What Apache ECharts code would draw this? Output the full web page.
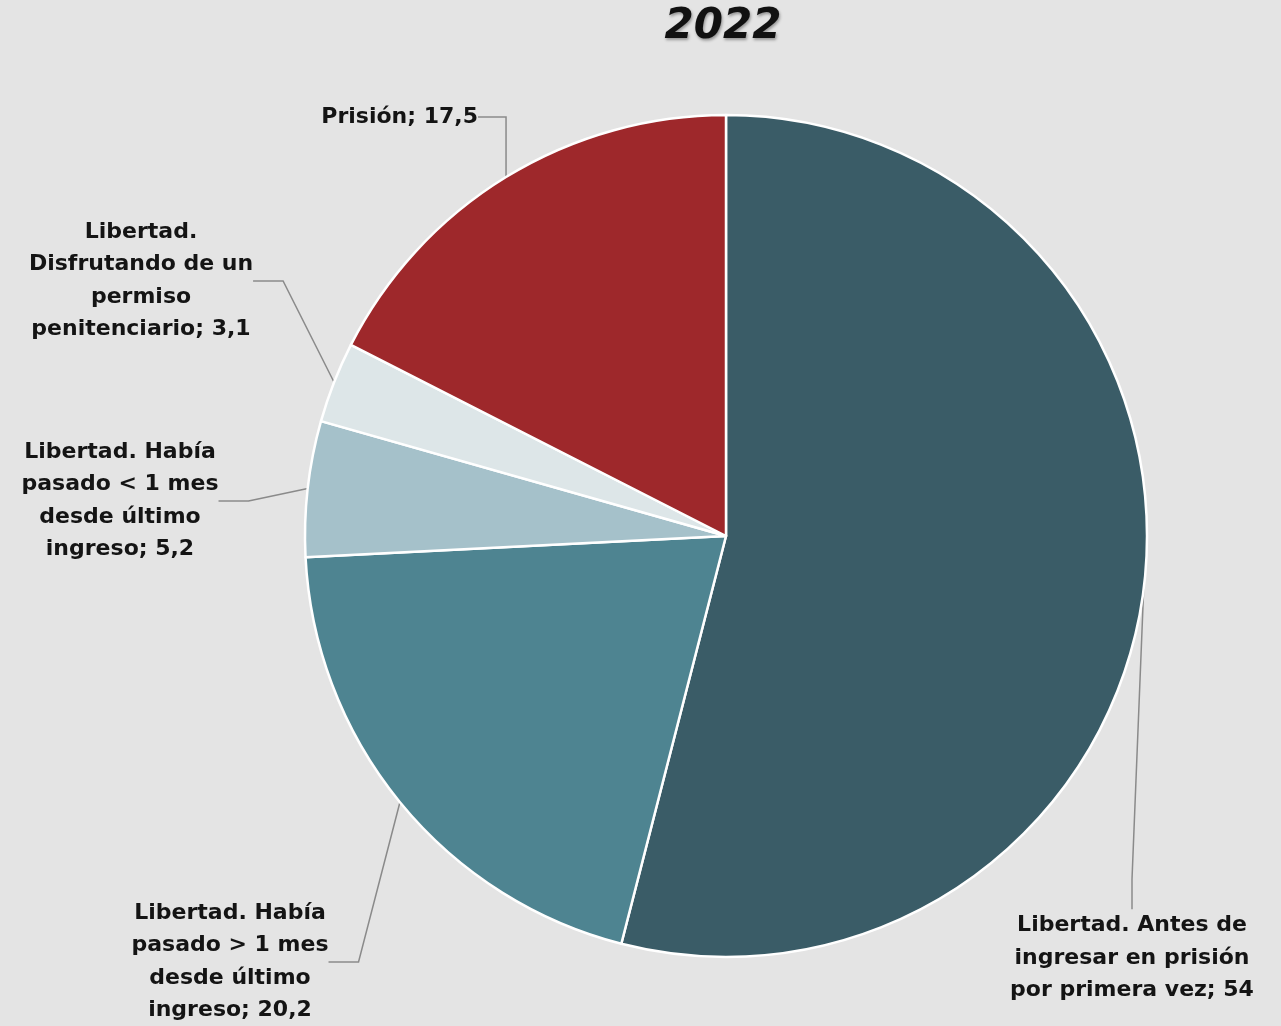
<!DOCTYPE html>
<html>
<head>
<meta charset="utf-8">
<script src="https://cdn.jsdelivr.net/npm/echarts@6/dist/echarts.min.js"></script>
<style>
html,body{margin:0;padding:0;background:#e4e4e4;}
#chart{width:1281px;height:1026px;}
</style>
</head>
<body>
<div id="chart"></div>
<script>
const titleText = '2022';
const categories = [
  'Libertad. Antes de\ningresar en prisión\npor primera vez',
  'Libertad. Había\npasado > 1 mes\ndesde último\ningreso',
  'Libertad. Había\npasado < 1 mes\ndesde último\ningreso',
  'Libertad.\nDisfrutando de un\npermiso\npenitenciario',
  'Prisión'
];
const values = [54, 20.2, 5.2, 3.1, 17.5];
const colors = ['#3a5c67', '#4e8491', '#a5c1ca', '#dde6e8', '#9e282b'];

// label placement (layout only)
const labelPos = [
  {x: 1132, y: 958, align: 'center'},
  {x: 230, y: 962, align: 'center'},
  {x: 120, y: 501, align: 'center'},
  {x: 141, y: 281, align: 'center'},
  {x: 478, y: 117, align: 'right'}
];

const chart = echarts.init(document.getElementById('chart'), null, {renderer: 'canvas'});
chart.setOption({
  backgroundColor: '#e4e4e4',
  animation: false,
  title: {
    text: titleText,
    left: 718,
    top: 1,
    textAlign: 'center',
    textStyle: {
      fontFamily: 'DejaVu Sans',
      fontStyle: 'italic',
      fontWeight: 'bold',
      fontSize: 42,
      color: '#111',
      textShadowColor: 'rgba(0,0,0,0.35)',
      textShadowBlur: 3,
      textShadowOffsetX: 1,
      textShadowOffsetY: 2
    }
  },
  series: [{
    type: 'pie',
    center: [726, 536],
    radius: 421,
    startAngle: 90,
    clockwise: true,
    avoidLabelOverlap: false,
    data: values.map((v, i) => ({
      name: categories[i],
      value: v,
      itemStyle: {color: colors[i]}
    })),
    itemStyle: {borderColor: '#ffffff', borderWidth: 2.5},
    label: {
      show: true,
      position: 'outside',
      fontFamily: 'DejaVu Sans',
      fontWeight: 'bold',
      fontSize: 22,
      lineHeight: 32.5,
      color: '#141414',
      align: 'center',
      formatter: p => p.name + '; ' + String(p.value).replace('.', ',')
    },
    labelLine: {
      show: true,
      lineStyle: {color: '#8a8a8a', width: 1.5}
    },
    labelLayout: function (params) {
      const lp = labelPos[params.dataIndex];
      return {x: lp.x, y: lp.y, align: lp.align, verticalAlign: 'middle'};
    }
  }]
});
</script>
</body>
</html>
